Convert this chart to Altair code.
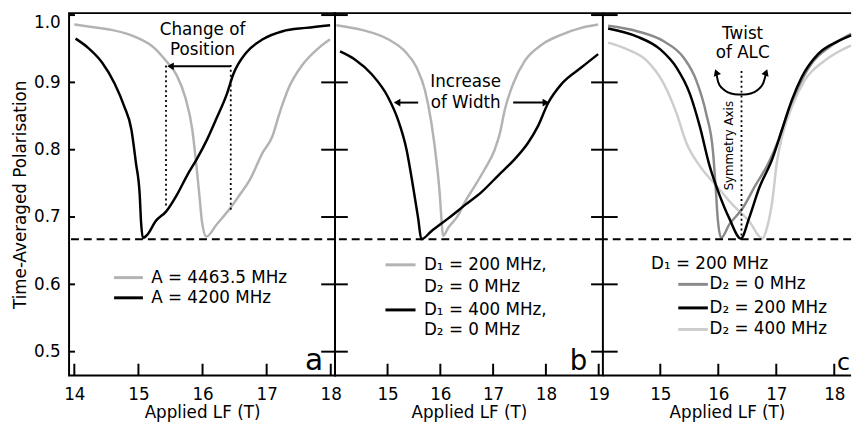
import altair as alt
import pandas as pd

FONT = "DejaVu Sans"

# ---------------- data ----------------
# panel a
a_gray_x = [14.0, 14.3, 14.58, 14.94, 15.25, 15.43, 15.6, 15.73, 15.84, 15.91, 15.96, 15.99, 16.06,
            16.22, 16.43, 16.58, 16.73, 16.94, 17.09, 17.2, 17.35, 17.55, 17.81, 17.99]
a_gray_y = [0.986, 0.982, 0.978, 0.968, 0.951, 0.932, 0.910, 0.878, 0.830, 0.771, 0.723, 0.694, 0.671,
            0.689, 0.713, 0.733, 0.754, 0.796, 0.820, 0.854, 0.893, 0.925, 0.951, 0.964]
a_black_x = [14.02, 14.22, 14.43, 14.63, 14.78, 14.89, 14.96, 15.02, 15.04, 15.07, 15.14, 15.27, 15.43,
             15.6, 15.76, 15.91, 16.07, 16.22, 16.38, 16.48, 16.68, 16.94, 17.25, 17.61, 17.99]
a_black_y = [0.965, 0.951, 0.930, 0.898, 0.864, 0.830, 0.781, 0.733, 0.694, 0.669, 0.674, 0.694, 0.708,
             0.733, 0.762, 0.786, 0.815, 0.847, 0.883, 0.912, 0.944, 0.964, 0.976, 0.981, 0.985]

# panel b
b_gray_x = [14.03, 14.51, 15.01, 15.33, 15.55, 15.71, 15.83, 15.93, 15.99, 16.02, 16.05, 16.15, 16.34,
            16.47, 16.66, 16.84, 17.03, 17.13, 17.22, 17.38, 17.6, 17.92, 18.3, 18.67, 18.99]
b_gray_y = [0.985, 0.978, 0.964, 0.946, 0.922, 0.888, 0.840, 0.781, 0.733, 0.698, 0.672, 0.684, 0.703,
            0.723, 0.747, 0.771, 0.800, 0.825, 0.859, 0.898, 0.932, 0.956, 0.971, 0.981, 0.986]
b_black_x = [14.1, 14.38, 14.7, 15.01, 15.2, 15.36, 15.49, 15.58, 15.64, 15.83, 16.15, 16.47, 16.78,
             17.1, 17.41, 17.66, 17.85, 18.04, 18.3, 18.67, 18.99]
b_black_y = [0.946, 0.934, 0.912, 0.878, 0.844, 0.800, 0.742, 0.698, 0.667, 0.679, 0.698, 0.718, 0.737,
             0.762, 0.786, 0.810, 0.835, 0.869, 0.898, 0.922, 0.942]

# panel c
c_d0_x = [14.1, 14.6, 15.06, 15.4, 15.62, 15.79, 15.91, 15.96, 15.99, 16.05, 16.19, 16.42, 16.64,
          16.87, 17.04, 17.21, 17.38, 17.6, 17.94, 18.29]
c_d0_y = [0.984, 0.976, 0.961, 0.937, 0.903, 0.854, 0.796, 0.737, 0.698, 0.669, 0.689, 0.713, 0.747,
          0.781, 0.815, 0.859, 0.893, 0.927, 0.954, 0.972]
c_d200_x = [14.1, 14.6, 15.0, 15.28, 15.51, 15.68, 15.85, 16.02, 16.19, 16.39, 16.53, 16.7, 16.93,
            17.1, 17.27, 17.44, 17.72, 18.06, 18.29]
c_d200_y = [0.980, 0.968, 0.949, 0.922, 0.883, 0.835, 0.776, 0.733, 0.698, 0.668, 0.698, 0.742, 0.786,
            0.830, 0.874, 0.908, 0.942, 0.961, 0.970]
c_d400_x = [14.1, 14.43, 14.77, 15.06, 15.28, 15.45, 15.68, 15.96, 16.25, 16.53, 16.76, 16.84, 16.93,
            17.01, 17.1, 17.27, 17.49, 17.83, 18.29]
c_d400_y = [0.959, 0.949, 0.932, 0.898, 0.854, 0.810, 0.776, 0.747, 0.718, 0.694, 0.668, 0.684, 0.723,
            0.781, 0.820, 0.864, 0.903, 0.932, 0.955]

# twist arc (panel c annotation)
arc_x = [15.97, 16.0, 16.07, 16.17, 16.28, 16.39, 16.5, 16.61, 16.71, 16.78, 16.82]
arc_y = [0.912, 0.900, 0.891, 0.885, 0.8825, 0.882, 0.8825, 0.885, 0.891, 0.900, 0.912]

y_ticks = [0.5, 0.6, 0.7, 0.8, 0.9, 1.0]
a_xticks = [14, 15, 16, 17, 18]
b_xticks = [15, 16, 17, 18, 19]
c_xticks = [15, 16, 17, 18]
BASE = 0.667

legend_a = ["A = 4463.5 MHz", "A = 4200 MHz"]
legend_b = ["D\u2081 = 200 MHz,", "D\u2082 = 0 MHz", "D\u2081 = 400 MHz,", "D\u2082 = 0 MHz"]
legend_c = ["D\u2081 = 200 MHz", "D\u2082 = 0 MHz", "D\u2082 = 200 MHz", "D\u2082 = 400 MHz"]

GRAY = "#b3b3b3"
MID = "#8a8a8a"
LIGHT = "#cdcdcd"

# ---------------- layout ----------------
H = 368
WA, WB, WC = 270, 272, 252
DOM_A = [13.918, 18.066]
DOM_B = [14.004, 19.08]
DOM_C = [14.01, 18.29]
Y_DOMAIN = [0.4645, 1.0029]
YS = alt.Scale(domain=Y_DOMAIN, nice=False, zero=False)


class P:
    def __init__(self, dom, xticks, yaxis):
        self.sc = alt.Scale(domain=dom, nice=False, zero=False)
        self.xax = alt.Axis(values=xticks, format="d", ticks=False, domain=False, grid=False,
                            labelPadding=11, title="Applied LF (T)", titlePadding=3)
        self.yax = yaxis

    def X(self, f):
        return alt.X(f, scale=self.sc, axis=self.xax)

    def Y(self, f):
        return alt.Y(f, scale=YS, axis=self.yax)


def line(p, xs, ys, color, width=2.5, interp="monotone"):
    df = pd.DataFrame({"x": xs, "y": ys})
    return alt.Chart(df).mark_line(color=color, strokeWidth=width, interpolate=interp).encode(
        x=p.X("x:Q"), y=p.Y("y:Q"))


def texts(p, xs, ys, labels, size=17, align="center", angle=0):
    df = pd.DataFrame({"x": xs, "y": ys, "t": labels})
    kw = dict(fontSize=size, align=align, baseline="middle", color="black", font=FONT)
    if angle:
        kw["angle"] = angle
    return alt.Chart(df).mark_text(**kw).encode(x=p.X("x:Q"), y=p.Y("y:Q"), text="t:N")


def seg(p, x1, x2, y1, y2, color="black", width=2.0, dash=None):
    df = pd.DataFrame({"x": [x1], "x2": [x2], "y": [y1], "y2": [y2]})
    kw = dict(color=color, strokeWidth=width)
    if dash:
        kw["strokeDash"] = dash
    return alt.Chart(df).mark_rule(**kw).encode(x=p.X("x:Q"), x2="x2:Q", y=p.Y("y:Q"), y2="y2:Q")


def head(p, x, y, shape, angle=0, size=60):
    df = pd.DataFrame({"x": [x], "y": [y]})
    kw = dict(shape=shape, filled=True, size=size, color="black", opacity=1)
    if angle:
        kw["angle"] = angle
    return alt.Chart(df).mark_point(**kw).encode(x=p.X("x:Q"), y=p.Y("y:Q"))


def frame_layers(p, W, xticks, left_len, right_len):
    layers = []
    layers.append(alt.Chart(pd.DataFrame({"x": xticks})).mark_rule(color="black", strokeWidth=2).encode(
        x=p.X("x:Q"), y=alt.value(H), y2=alt.value(H - 12)))
    ydf = pd.DataFrame({"y": y_ticks})
    if left_len:
        layers.append(alt.Chart(ydf).mark_rule(color="black", strokeWidth=2).encode(
            y=p.Y("y:Q"), x=alt.value(0), x2=alt.value(left_len)))
    if right_len:
        layers.append(alt.Chart(ydf).mark_rule(color="black", strokeWidth=2).encode(
            y=p.Y("y:Q"), x=alt.value(W - right_len), x2=alt.value(W)))
    layers.append(alt.Chart(pd.DataFrame({"y": [BASE]})).mark_rule(
        color="black", strokeWidth=2, strokeDash=[8, 5]).encode(y=p.Y("y:Q")))
    return layers


def letter(ch, W, size, dx):
    return alt.Chart(pd.DataFrame({"t": [ch]})).mark_text(
        fontSize=size, align="right", baseline="alphabetic", color="black", font=FONT).encode(
        x=alt.value(W - dx), y=alt.value(H - 6), text="t:N")


# ---------------- panel a ----------------
pa_ = P(DOM_A, a_xticks, alt.Axis(values=y_ticks, format=".1f", ticks=False, domain=False, grid=False,
                                  labelPadding=9, labelFlush=3, title="Time-Averaged Polarisation",
                                  titlePadding=4))
pa_layers = [
    line(pa_, a_gray_x, a_gray_y, GRAY),
    line(pa_, a_black_x, a_black_y, "black"),
    seg(pa_, 15.43, 15.43, 0.925, 0.713, width=1.8, dash=[2, 3]),
    seg(pa_, 16.44, 16.44, 0.926, 0.710, width=1.8, dash=[2, 3]),
    seg(pa_, 15.5, 16.44, 0.924, 0.924, width=2),
    head(pa_, 15.5, 0.924, "triangle-left"),
    texts(pa_, [16.0, 16.0], [0.977, 0.948], ["Change of", "Position"]),
    seg(pa_, 14.62, 15.07, 0.610, 0.610, color=GRAY, width=3),
    seg(pa_, 14.62, 15.07, 0.580, 0.580, color="black", width=3),
    texts(pa_, [15.2, 15.2], [0.610, 0.580], legend_a, align="left"),
    letter("a", WA, 30, 12),
] + frame_layers(pa_, WA, a_xticks, 6, 14)
pa = alt.layer(*pa_layers).properties(width=WA, height=H)

# ---------------- panel b ----------------
pb_ = P(DOM_B, b_xticks, None)
pb_layers = [
    line(pb_, b_gray_x, b_gray_y, GRAY),
    line(pb_, b_black_x, b_black_y, "black"),
    seg(pb_, 15.18, 15.58, 0.870, 0.870),
    head(pb_, 15.18, 0.870, "triangle-left"),
    seg(pb_, 17.38, 18.0, 0.870, 0.870),
    head(pb_, 18.0, 0.870, "triangle-right"),
    texts(pb_, [16.48, 16.48], [0.900, 0.870], ["Increase", "of Width"]),
    seg(pb_, 14.96, 15.53, 0.629, 0.629, color=GRAY, width=3),
    seg(pb_, 14.96, 15.53, 0.562, 0.562, color="black", width=3),
    texts(pb_, [15.69] * 4, [0.629, 0.596, 0.562, 0.532], legend_b, align="left"),
    letter("b", WB, 28, 16),
] + frame_layers(pb_, WB, b_xticks, 13, 12)
pb = alt.layer(*pb_layers).properties(width=WB, height=H)

# ---------------- panel c ----------------
pc_ = P(DOM_C, c_xticks, None)
pc_layers = [
    line(pc_, c_d400_x, c_d400_y, LIGHT),
    line(pc_, c_d0_x, c_d0_y, MID),
    line(pc_, c_d200_x, c_d200_y, "black"),
    seg(pc_, 16.4, 16.4, 0.917, 0.668, width=1.8, dash=[2, 3]),
    texts(pc_, [16.19], [0.806], ["Symmetry Axis"], size=12, angle=270),
    texts(pc_, [16.42, 16.42], [0.972, 0.943], ["Twist", "of ALC"]),
    line(pc_, arc_x, arc_y, "black", width=2),
    head(pc_, 15.965, 0.915, "triangle-up", angle=340),
    head(pc_, 16.825, 0.915, "triangle-up", angle=20),
    texts(pc_, [14.84], [0.630], [legend_c[0]], align="left"),
    seg(pc_, 15.31, 15.82, 0.600, 0.600, color=MID, width=3),
    seg(pc_, 15.31, 15.82, 0.565, 0.565, color="black", width=3),
    seg(pc_, 15.31, 15.82, 0.533, 0.533, color=LIGHT, width=3),
    texts(pc_, [15.85] * 3, [0.600, 0.565, 0.533], legend_c[1:], align="left"),
    letter("c", WC, 24, 1),
    alt.Chart(pd.DataFrame({"k": [0]})).mark_rule(color="black", strokeWidth=2).encode(
        x=alt.value(0), x2=alt.value(WC), y=alt.value(0)),
    alt.Chart(pd.DataFrame({"k": [0]})).mark_rule(color="black", strokeWidth=2).encode(
        x=alt.value(0), x2=alt.value(WC), y=alt.value(H)),
] + frame_layers(pc_, WC, c_xticks, 15, 0)
pc = alt.layer(*pc_layers).properties(width=WC, height=H,
                                      view=alt.ViewBackground(stroke="transparent"))

chart = alt.hconcat(pa, pb, pc, spacing=0, bounds="flush").resolve_scale(
    x="independent", y="independent"
).properties(
    padding={"left": 2, "top": 0, "right": 0, "bottom": 0}
).configure(font=FONT).configure_view(stroke="black", strokeWidth=2).configure_axis(
    labelFontSize=17, titleFontSize=17, titleFontWeight="normal",
    labelColor="black", titleColor="black", labelFont=FONT, titleFont=FONT
)

chart.save("out.html", embed_options={"renderer": "svg", "actions": False})
